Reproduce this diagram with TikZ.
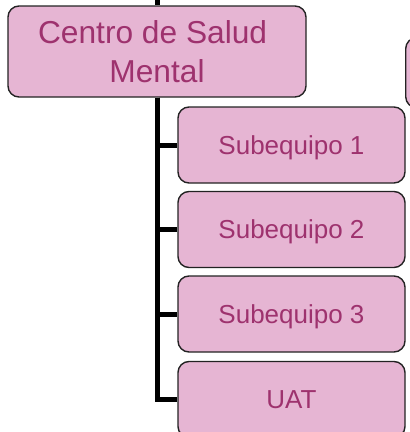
\documentclass[tikz,border=0pt]{standalone}
\usepackage{fontspec}
\setmainfont{Liberation Sans}
\definecolor{boxfill}{RGB}{230,181,211}
\definecolor{boxtext}{RGB}{158,50,110}
\definecolor{boxline}{RGB}{35,35,35}
\begin{document}
\begin{tikzpicture}[x=1pt,y=-1pt,
  box/.style={draw=boxline, line width=1.4pt, fill=boxfill, rounded corners=11pt, text=boxtext, inner sep=0pt},
  subbox/.style={box, minimum width=227pt, minimum height=76pt, font=\fontsize{26}{30}\selectfont, text height=18.6pt, text depth=0pt},
  conn/.style={line width=5pt, draw=black}]
\useasboundingbox (0,0) rectangle (410,432);
\coordinate (top) at (157,0);
\node[box, minimum width=298pt, minimum height=91pt, align=center, font=\fontsize{31.7}{38.4}\selectfont] (main) at (157,51.5) {Centro de Salud\hspace*{8.8pt}\\Mental};
\node[box, minimum width=227pt, minimum height=70pt, anchor=north west] (side) at (405,37) {};
\node[subbox] (s1) at (291.5,145) {Subequipo 1};
\node[subbox] (s2) at (291.5,229.5) {Subequipo 2};
\node[subbox] (s3) at (291.5,314) {Subequipo 3};
\node[subbox] (uat) at (291.5,399.5) {UAT};
\draw[conn] (top) -- (main.north);
\draw[conn] (main.south) |- (s1.west);
\draw[conn] (main.south) |- (s2.west);
\draw[conn] (main.south) |- (s3.west);
\draw[conn] (main.south) |- (uat.west);
\end{tikzpicture}
\end{document}
